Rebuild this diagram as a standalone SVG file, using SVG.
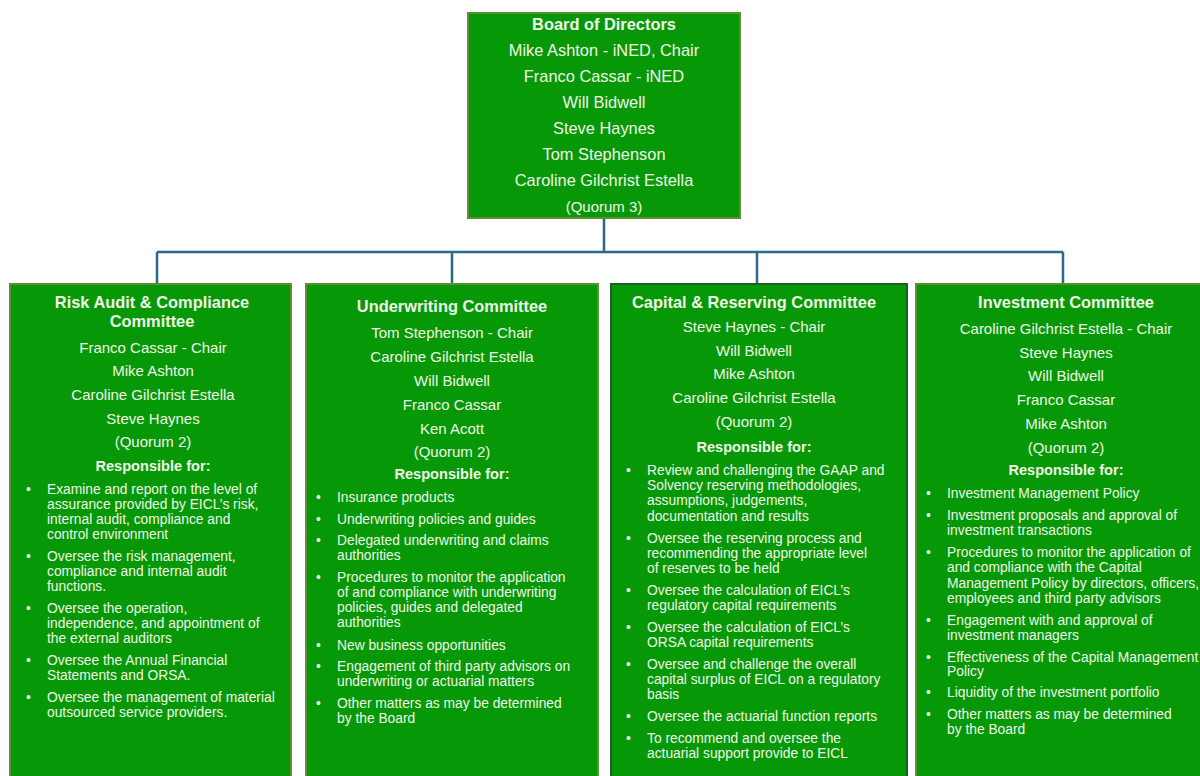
<svg xmlns="http://www.w3.org/2000/svg" width="1200" height="776" viewBox="0 0 1200 776">
<style>
.box{fill:#079807;stroke:#5f8f35;stroke-width:2}
.box3{fill:#079807;stroke:#1d5e2b;stroke-width:2}
.conn{fill:none;stroke:#2c6889;stroke-width:2.5}
text{font-family:"Liberation Sans",Arial,sans-serif;fill:#eef7e6;dominant-baseline:central}
.t{font-weight:bold;font-size:16.4px;text-anchor:middle}
.n{font-size:15px;text-anchor:middle}
.q{font-size:15px;text-anchor:middle}
.r{font-weight:bold;font-size:14.6px;text-anchor:middle}
.b{font-size:13.8px}
.bn{font-size:16.4px;text-anchor:middle}
</style>
<rect width="1200" height="776" fill="#ffffff"/>
<g id="connectors">
<path class="conn" d="M604,218 V252 M157,252 H1063 M157,252 V284 M452,252 V284 M757,252 V284 M1063,252 V284"/>
</g>
<g id="board">
<rect class="box" x="468" y="13" width="272" height="205"/>
<text class="t" x="604" y="24">Board of Directors</text>
<text class="bn" x="604" y="50">Mike Ashton - iNED, Chair</text>
<text class="bn" x="604" y="76">Franco Cassar - iNED</text>
<text class="bn" x="604" y="102">Will Bidwell</text>
<text class="bn" x="604" y="128">Steve Haynes</text>
<text class="bn" x="604" y="154">Tom Stephenson</text>
<text class="bn" x="604" y="180">Caroline Gilchrist Estella</text>
<text class="q" x="604" y="206">(Quorum 3)</text>
</g>
<g id="risk">
<rect class="box" x="10" y="284" width="281" height="510"/>
<text class="t" x="152" y="302">Risk Audit &amp; Compliance</text>
<text class="t" x="152" y="321">Committee</text>
<text class="n" x="153" y="347">Franco Cassar  - Chair</text>
<text class="n" x="153" y="370">Mike Ashton</text>
<text class="n" x="153" y="394">Caroline  Gilchrist  Estella</text>
<text class="n" x="153" y="418">Steve Haynes</text>
<text class="n" x="153" y="441">(Quorum 2)</text>
<text class="r" x="153" y="466">Responsible for:</text>
<text class="b" x="26" y="489">•</text><text class="b" x="47" y="489">Examine and report on the level  of</text>
<text class="b" x="47" y="504">assurance provided by EICL’s risk,</text>
<text class="b" x="47" y="519">internal audit, compliance and</text>
<text class="b" x="47" y="534">control environment</text>
<text class="b" x="26" y="556">•</text><text class="b" x="47" y="556">Oversee the risk management,</text>
<text class="b" x="47" y="571">compliance and internal audit</text>
<text class="b" x="47" y="586">functions.</text>
<text class="b" x="26" y="608">•</text><text class="b" x="47" y="608">Oversee the operation,</text>
<text class="b" x="47" y="623">independence, and appointment of</text>
<text class="b" x="47" y="638">the external auditors</text>
<text class="b" x="26" y="660">•</text><text class="b" x="47" y="660">Oversee the Annual Financial</text>
<text class="b" x="47" y="675">Statements and ORSA.</text>
<text class="b" x="26" y="697">•</text><text class="b" x="47" y="697">Oversee the management of  material</text>
<text class="b" x="47" y="712">outsourced service  providers.</text>
</g>
<g id="underwriting">
<rect class="box" x="306" y="284" width="292" height="510"/>
<text class="t" x="452" y="306">Underwriting Committee</text>
<text class="n" x="452" y="332">Tom Stephenson  - Chair</text>
<text class="n" x="452" y="356">Caroline  Gilchrist  Estella</text>
<text class="n" x="452" y="380">Will Bidwell</text>
<text class="n" x="452" y="404">Franco Cassar</text>
<text class="n" x="452" y="428">Ken Acott</text>
<text class="n" x="452" y="451">(Quorum 2)</text>
<text class="r" x="452" y="474">Responsible for:</text>
<text class="b" x="316" y="497">•</text><text class="b" x="337" y="497">Insurance products</text>
<text class="b" x="316" y="519">•</text><text class="b" x="337" y="519">Underwriting policies and guides</text>
<text class="b" x="316" y="540">•</text><text class="b" x="337" y="540">Delegated underwriting and claims</text>
<text class="b" x="337" y="555">authorities</text>
<text class="b" x="316" y="577">•</text><text class="b" x="337" y="577">Procedures to monitor the application</text>
<text class="b" x="337" y="592">of and compliance with underwriting</text>
<text class="b" x="337" y="607">policies, guides and delegated</text>
<text class="b" x="337" y="622">authorities</text>
<text class="b" x="316" y="645">•</text><text class="b" x="337" y="645">New business opportunities</text>
<text class="b" x="316" y="666">•</text><text class="b" x="337" y="666">Engagement of third party advisors on</text>
<text class="b" x="337" y="681">underwriting or actuarial matters</text>
<text class="b" x="316" y="703">•</text><text class="b" x="337" y="703">Other matters as may be determined</text>
<text class="b" x="337" y="718">by the Board</text>
</g>
<g id="capital">
<rect class="box3" x="611" y="284" width="296" height="510"/>
<text class="t" x="754" y="302">Capital &amp; Reserving Committee</text>
<text class="n" x="754" y="326">Steve Haynes  - Chair</text>
<text class="n" x="754" y="350">Will Bidwell</text>
<text class="n" x="754" y="373">Mike Ashton</text>
<text class="n" x="754" y="397">Caroline  Gilchrist  Estella</text>
<text class="n" x="754" y="421">(Quorum 2)</text>
<text class="r" x="754" y="447">Responsible for:</text>
<text class="b" x="626" y="470">•</text><text class="b" x="647" y="470">Review and challenging the GAAP and</text>
<text class="b" x="647" y="485">Solvency reserving methodologies,</text>
<text class="b" x="647" y="500">assumptions, judgements,</text>
<text class="b" x="647" y="516">documentation and results</text>
<text class="b" x="626" y="538">•</text><text class="b" x="647" y="538">Oversee the reserving process and</text>
<text class="b" x="647" y="553">recommending the appropriate level</text>
<text class="b" x="647" y="568">of reserves to be held</text>
<text class="b" x="626" y="590">•</text><text class="b" x="647" y="590">Oversee the calculation of EICL’s</text>
<text class="b" x="647" y="605">regulatory capital requirements</text>
<text class="b" x="626" y="627">•</text><text class="b" x="647" y="627">Oversee the calculation of EICL’s</text>
<text class="b" x="647" y="642">ORSA capital requirements</text>
<text class="b" x="626" y="664">•</text><text class="b" x="647" y="664">Oversee and challenge the overall</text>
<text class="b" x="647" y="679">capital surplus of EICL on a regulatory</text>
<text class="b" x="647" y="694">basis</text>
<text class="b" x="626" y="716">•</text><text class="b" x="647" y="716">Oversee the actuarial function reports</text>
<text class="b" x="626" y="738">•</text><text class="b" x="647" y="738">To recommend and oversee the</text>
<text class="b" x="647" y="753">actuarial support provide to EICL</text>
</g>
<g id="investment">
<rect class="box" x="916" y="284" width="300" height="510"/>
<text class="t" x="1066" y="302">Investment Committee</text>
<text class="n" x="1066" y="328">Caroline  Gilchrist  Estella  - Chair</text>
<text class="n" x="1066" y="352">Steve Haynes</text>
<text class="n" x="1066" y="375">Will Bidwell</text>
<text class="n" x="1066" y="399">Franco Cassar</text>
<text class="n" x="1066" y="423">Mike Ashton</text>
<text class="n" x="1066" y="447">(Quorum 2)</text>
<text class="r" x="1066" y="470">Responsible for:</text>
<text class="b" x="926" y="493">•</text><text class="b" x="947" y="493">Investment Management Policy</text>
<text class="b" x="926" y="515">•</text><text class="b" x="947" y="515">Investment proposals and approval of</text>
<text class="b" x="947" y="530">investment transactions</text>
<text class="b" x="926" y="552">•</text><text class="b" x="947" y="552">Procedures to monitor the application of</text>
<text class="b" x="947" y="567">and compliance with the Capital</text>
<text class="b" x="947" y="583">Management Policy by directors, officers,</text>
<text class="b" x="947" y="598">employees and third party advisors</text>
<text class="b" x="926" y="620">•</text><text class="b" x="947" y="620">Engagement with and approval of</text>
<text class="b" x="947" y="635">investment managers</text>
<text class="b" x="926" y="657">•</text><text class="b" x="947" y="657">Effectiveness of the  Capital Management</text>
<text class="b" x="947" y="671">Policy</text>
<text class="b" x="926" y="692">•</text><text class="b" x="947" y="692">Liquidity of the investment portfolio</text>
<text class="b" x="926" y="714">•</text><text class="b" x="947" y="714">Other matters as may be determined</text>
<text class="b" x="947" y="729">by the Board</text>
</g>
</svg>
